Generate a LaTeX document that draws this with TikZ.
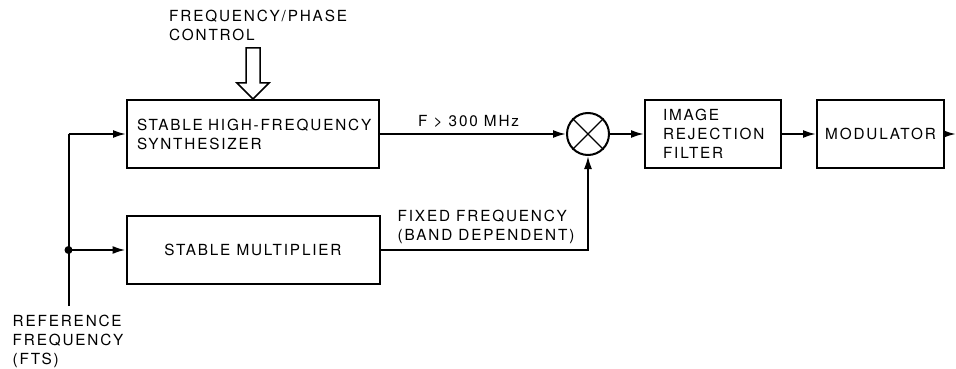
\documentclass[tikz,border=0pt]{standalone}
\usepackage{fontspec}
\setmainfont[LetterSpace=12]{TeX Gyre Heros}
\usetikzlibrary{positioning,calc,arrows.meta}

\begin{document}
\begin{tikzpicture}[font=\fontsize{15.3}{19}\selectfont,>={Latex[length=13pt,width=8pt]},
  blk/.style={draw,line width=2pt,minimum height=68pt,inner sep=0pt},
  wire/.style={line width=2pt},
  lbl/.style={align=left,inner sep=0pt}]
\useasboundingbox (0,0) rectangle (956pt,-369pt);

\node[blk,minimum width=252pt,text width=232pt,align=left] (syn) at (253pt,-134pt) {\mbox{STABLE HIGH-FREQUENCY}\\SYNTHESIZER};
\node[blk,minimum width=253pt,below=46pt of syn] (mult) {STABLE MULTIPLIER};
\node[circle,draw,line width=2pt,minimum size=42pt,inner sep=0pt,right=186pt of syn] (mix) {};
\node[blk,minimum width=136pt,text width=100pt,align=left,right=34pt of mix] (filt) {IMAGE\\REJECTION\\FILTER};
\node[blk,minimum width=127pt,right=34pt of filt] (mod) {MODULATOR};

% mixer cross
\draw[line width=1.4pt] (mix.north west) -- (mix.south east);
\draw[line width=1.4pt] (mix.north east) -- (mix.south west);

% reference feed
\coordinate (jn) at ([xshift=-57pt]mult.west);
\coordinate (ref) at ([yshift=-56pt]jn);
\coordinate (out) at (956pt,0 |- mod.east);
\draw[wire] (ref) -- (jn) -- (jn|-syn.west);
\draw[wire,->] (jn|-syn.west) -- (syn.west);
\draw[wire,->] (jn) -- (mult.west);
\fill (jn) circle (4pt);

\draw[wire,->] (syn) -- (mix);
\draw[wire,->] (mult.east) -| (mix.south);
\draw[wire,->] (mix) -- (filt);
\draw[wire,->] (filt) -- (mod);
\draw[wire,->] (mod) -- (out);

% control input
\draw[line width=1.5pt] (syn.north) -- ++(-16pt,16pt) -- ++(9pt,0) -- ++(0,35pt) -- ++(14pt,0)
  -- ++(0,-35pt) -- ++(9pt,0) -- cycle;

% labels
\node[lbl,anchor=south west] (ctl) at ([xshift=-84pt,yshift=58pt]syn.north) {FREQUENCY/PHASE\\CONTROL};
\node[lbl,anchor=south west] (fhi) at ([xshift=38pt,yshift=6pt]syn.east) {F > 300 MHz};
\node[lbl,anchor=south west] (ffix) at ([xshift=17pt,yshift=6pt]mult.east) {FIXED FREQUENCY\\(BAND DEPENDENT)};
\node[lbl,anchor=north west] (reflbl) at ([xshift=-56pt,yshift=-9pt]ref) {REFERENCE\\FREQUENCY\\(FTS)};

\end{tikzpicture}
\end{document}
